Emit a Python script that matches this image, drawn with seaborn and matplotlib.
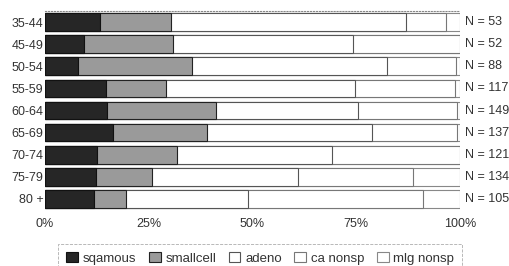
import pandas as pd
import numpy as np
import matplotlib
matplotlib.use('Agg')
import matplotlib.pyplot as plt
import seaborn as sns
from matplotlib.patches import Patch

# age groups and case counts
groups = ['35-44', '45-49', '50-54', '55-59', '60-64', '65-69', '70-74', '75-79', '80 +']
n_cases = [53, 52, 88, 117, 149, 137, 121, 134, 105]

# share of each histology type in percent
squamous = [13.3, 9.4, 7.9, 14.7, 14.9, 16.5, 12.6, 12.3, 11.8]
smallcell = [17.0, 21.4, 27.5, 14.4, 26.3, 22.6, 19.1, 13.4, 7.6]
adeno = [56.8, 43.3, 46.9, 45.6, 34.3, 39.6, 37.4, 35.3, 29.6]
ca_nonsp = [9.5, 25.9, 16.7, 24.1, 23.7, 20.5, 30.9, 27.6, 42.2]
mlg_nonsp = [3.4, 0.0, 1.0, 1.2, 0.8, 0.8, 0.0, 11.4, 8.8]

labels = ['sqamous', 'smallcell', 'adeno', 'ca nonsp', 'mlg nonsp']
colors = ['#262626', '#9a9a9a', 'white', 'white', 'white']
edges = ['#111111', '#222222', '#555555', '#777777', '#888888']

df = pd.DataFrame({'group': groups, 'sqamous': squamous, 'smallcell': smallcell,
                   'adeno': adeno, 'ca nonsp': ca_nonsp, 'mlg nonsp': mlg_nonsp})
# cumulative sums for the layered stack
cum = df[labels].cumsum(axis=1)
cum['group'] = df['group']

sns.set_style('white')
plt.rcParams['font.family'] = ['Liberation Sans', 'DejaVu Sans']
plt.rcParams['font.size'] = 9

fig = plt.figure(figsize=(5.09, 2.66), dpi=100)
ax = fig.add_axes([0.0884, 0.2105, 0.8153, 0.748])

# draw from the longest cumulative bar down to the shortest
for i in range(len(labels) - 1, -1, -1):
    sns.barplot(data=cum, x=labels[i], y='group', order=groups, orient='h',
                color=colors[i], edgecolor=edges[i], linewidth=0.8,
                width=0.8, saturation=1, ax=ax)

ax.set_xlim(0, 100)
ax.set_xticks([0, 25, 50, 75, 100])
ax.set_xticklabels(['0%', '25%', '50%', '75%', '100%'], color='#333333')
ax.set_xlabel('')
ax.set_ylabel('')
ax.tick_params(axis='both', length=0, labelsize=9, colors='#333333')
ax.tick_params(axis='x', pad=6)
ax.tick_params(axis='y', pad=1)

for s in ['left', 'right', 'bottom']:
    ax.spines[s].set_visible(False)
ax.spines['top'].set_linestyle(':')
ax.spines['top'].set_color('#888888')
ax.spines['top'].set_linewidth(0.8)

# N labels at the right of each bar
for k, n in enumerate(n_cases):
    ax.text(101.2, k, 'N = %d' % n, ha='left', va='center', fontsize=9,
            color='#333333', clip_on=False)

handles = [Patch(facecolor=colors[i], edgecolor=edges[i], linewidth=0.8, label=labels[i])
           for i in range(len(labels))]
leg = fig.legend(handles=handles, loc='center', bbox_to_anchor=(0.511, 0.03), ncol=5,
                 frameon=True, fancybox=False, handlelength=0.9, handleheight=0.9,
                 handletextpad=0.35, columnspacing=0.95, fontsize=9.5, borderpad=0.6)
leg.get_frame().set_edgecolor('#999999')
leg.get_frame().set_linewidth(0.6)
leg.get_frame().set_linestyle('--')
for t in leg.get_texts():
    t.set_color('#333333')

plt.savefig('out.png', dpi=100)
